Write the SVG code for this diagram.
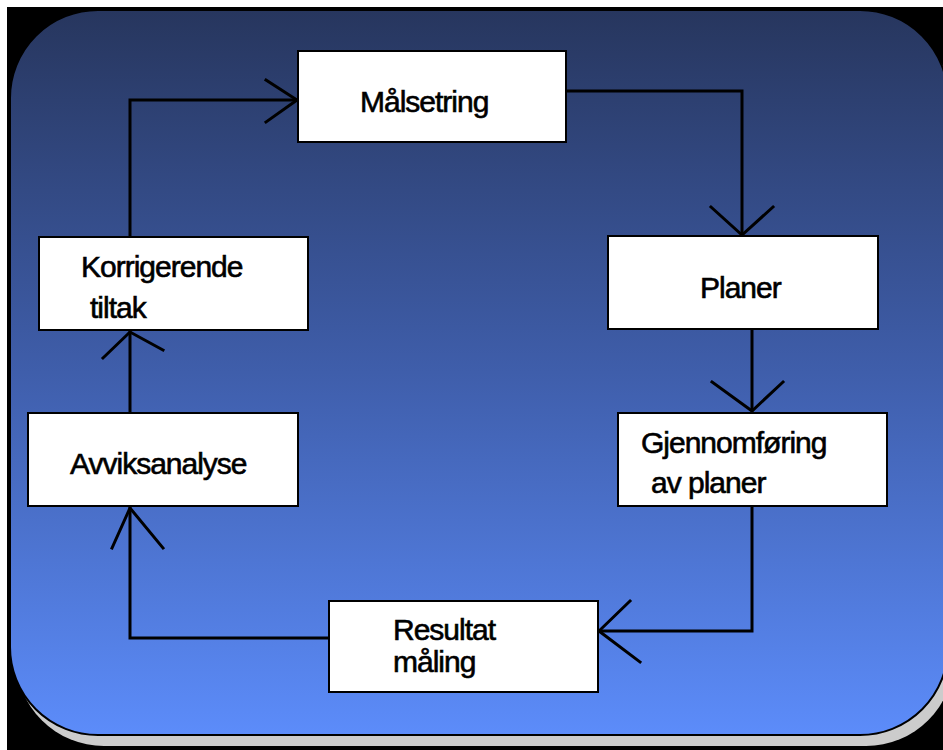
<svg xmlns="http://www.w3.org/2000/svg" width="943" height="750" viewBox="0 0 943 750">
<defs>
<linearGradient id="bg" x1="0" y1="0" x2="0" y2="1">
<stop offset="0" stop-color="#27365e"/>
<stop offset="0.5" stop-color="#3f5eab"/>
<stop offset="1" stop-color="#5c8cfa"/>
</linearGradient>
<style>
.box{fill:#ffffff;stroke:#000000;stroke-width:2}
.lbl{font-family:"Liberation Sans",Arial,sans-serif;font-size:30px;letter-spacing:-1px;fill:#000;stroke:#000;stroke-width:0.6}
.con{fill:none;stroke:#000;stroke-width:3;stroke-linecap:square}
</style>
</defs>
<rect x="0" y="0" width="943" height="750" fill="#ffffff"/>
<rect x="7" y="7" width="936" height="743" fill="#000000"/>
<rect x="16" y="21" width="938" height="725" rx="88" ry="88" fill="#cccccc"/>
<rect x="10" y="10" width="938" height="725" rx="88" ry="88" fill="url(#bg)" stroke="#000" stroke-width="2"/>
<g id="connectors">
<polyline class="con" points="566,91 742,91 742,234"/>
<polyline class="con" points="711,207 742,235 773,207"/>
<polyline class="con" points="752,330 752,410"/>
<polyline class="con" points="712,382 752,411 783,382"/>
<polyline class="con" points="752,506 752,631 600,631"/>
<polyline class="con" points="630,601 599,631 640,662"/>
<polyline class="con" points="329,638 130,638 130,508"/>
<polyline class="con" points="112,548 130,508 163,548"/>
<polyline class="con" points="130,413 130,332"/>
<polyline class="con" points="103,358 130,332 163,350"/>
<polyline class="con" points="130,237 130,100 296,100"/>
<polyline class="con" points="266,80 297,100 266,122"/>
</g>
<g id="malsetring">
<rect class="box" x="298" y="51" width="268" height="91"/>
<text class="lbl" x="360" y="112">Målsetring</text>
</g>
<g id="planer">
<rect class="box" x="608" y="236" width="270" height="93"/>
<text class="lbl" x="700" y="298">Planer</text>
</g>
<g id="gjennomforing">
<rect class="box" x="618" y="413" width="269" height="93"/>
<text class="lbl" x="641" y="453">Gjennomføring</text>
<text class="lbl" x="651" y="493">av planer</text>
</g>
<g id="resultat">
<rect class="box" x="329" y="601" width="269" height="91"/>
<text class="lbl" x="393" y="640">Resultat</text>
<text class="lbl" x="393" y="672">måling</text>
</g>
<g id="avviksanalyse">
<rect class="box" x="28" y="413" width="270" height="93"/>
<text class="lbl" x="70" y="474">Avviksanalyse</text>
</g>
<g id="korrigerende">
<rect class="box" x="39" y="237" width="269" height="93"/>
<text class="lbl" x="81" y="277">Korrigerende</text>
<text class="lbl" x="90" y="318">tiltak</text>
</g>
</svg>
